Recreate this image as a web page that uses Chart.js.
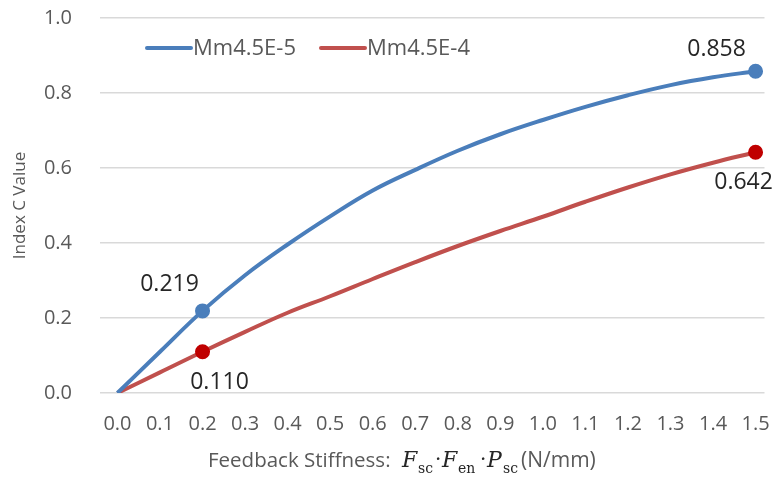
<!DOCTYPE html>
<html>
<head>
<meta charset="utf-8">
<script src="https://cdn.jsdelivr.net/npm/chart.js@4.4.1/dist/chart.umd.min.js"></script>
<style>
  html, body { margin: 0; padding: 0; background: #fff; }
  #wrap { width: 774px; height: 480px; }
</style>
</head>
<body>
<div id="wrap"><canvas id="stiffnessChart" width="774" height="480"></canvas></div>
<script>
// feedback stiffness (N/mm) on the x axis
const stiffness = [0.0, 0.1, 0.2, 0.3, 0.4, 0.5, 0.6, 0.7, 0.8, 0.9, 1.0, 1.1, 1.2, 1.3, 1.4, 1.5];
// index C for each mass ratio
const indexCMm45E5 = [0, 0.110, 0.219, 0.314, 0.396, 0.471, 0.540, 0.595, 0.646, 0.690, 0.728, 0.763, 0.794, 0.821, 0.842, 0.858];
const indexCMm45E4 = [0, 0.055, 0.110, 0.163, 0.214, 0.258, 0.304, 0.349, 0.392, 0.432, 0.470, 0.510, 0.548, 0.583, 0.614, 0.642];
const seriesNames = ['Mm4.5E-5', 'Mm4.5E-4'];
const yTickValues = [0.0, 0.2, 0.4, 0.6, 0.8, 1.0];
// points that get a marker and a value label
const markedIdx = [2, 15];

const BLUE = '#4a7ebb';
const RED = '#c0504d';
const RED_DOT = '#c00000';
const GREY = '#595959';
const SANS = '"Open Sans", "Liberation Sans", sans-serif';
const SERIF = '"DejaVu Serif", "Liberation Serif", serif';

// label offsets from the point, per dataset / marked index
const labelOffsets = [
  { 2: [-33, -26], 15: [-39, -22] },
  { 2: [17, 31], 15: [-12, 30] }
];

function pts(values) {
  return stiffness.map((x, i) => ({ x: x, y: values[i] }));
}
function radii(r) {
  return stiffness.map((_, i) => markedIdx.includes(i) ? r : 0);
}

// legend drawn inside the plot area, top left
const insideLegend = {
  id: 'insideLegend',
  afterDraw(chart) {
    const { ctx, chartArea } = chart;
    const y = chartArea.top + 30;
    const starts = [chartArea.left + 47, chartArea.left + 221];
    ctx.save();
    ctx.font = '22px ' + SANS;
    ctx.textBaseline = 'middle';
    chart.data.datasets.forEach((ds, i) => {
      const x0 = starts[i];
      ctx.strokeStyle = ds.borderColor;
      ctx.lineWidth = 4;
      ctx.lineCap = 'round';
      ctx.beginPath();
      ctx.moveTo(x0, y);
      ctx.lineTo(x0 + 44, y);
      ctx.stroke();
      ctx.fillStyle = GREY;
      ctx.fillText(ds.label, x0 + 46, y + 1);
    });
    ctx.restore();
  }
};

// value labels next to the marked points
const valueLabels = {
  id: 'valueLabels',
  afterDatasetsDraw(chart) {
    const { ctx } = chart;
    ctx.save();
    ctx.font = '23px ' + SANS;
    ctx.fillStyle = '#262626';
    ctx.textAlign = 'center';
    ctx.textBaseline = 'middle';
    chart.data.datasets.forEach((ds, d) => {
      const meta = chart.getDatasetMeta(d);
      markedIdx.forEach(i => {
        const p = meta.data[i];
        const off = labelOffsets[d][i];
        ctx.fillText(ds.data[i].y.toFixed(3), p.x + off[0], p.y + off[1]);
      });
    });
    ctx.restore();
  }
};

// x axis title with the stiffness product written out
const xTitle = {
  id: 'xTitle',
  afterDraw(chart) {
    const { ctx } = chart;
    const base = 467;
    const ink = '#262626';
    const big = 'italic 22px ' + SERIF;
    const sub = '14px ' + SERIF;
    const parts = [
      { t: 'F', f: big, c: ink, x: 402, dy: 0 },
      { t: 'sc', f: sub, c: ink, x: 418, dy: 6 },
      { t: '·', f: '20px ' + SERIF, c: ink, x: 435, dy: -1 },
      { t: 'F', f: big, c: ink, x: 442, dy: 0 },
      { t: 'en', f: sub, c: ink, x: 458, dy: 6 },
      { t: '·', f: '20px ' + SERIF, c: ink, x: 480, dy: -1 },
      { t: 'P', f: big, c: ink, x: 487, dy: 0 },
      { t: 'sc', f: sub, c: ink, x: 503, dy: 6 },
      { t: '(N/mm)', f: '21px ' + SANS, c: GREY, x: 521, dy: 0 }
    ];
    ctx.save();
    ctx.textBaseline = 'alphabetic';
    ctx.font = '20.5px ' + SANS;
    ctx.fillStyle = GREY;
    ctx.fillText('Feedback Stiffness:', 208, base);
    parts.forEach(p => {
      ctx.font = p.f;
      ctx.fillStyle = p.c;
      ctx.fillText(p.t, p.x, base + p.dy);
    });
    ctx.restore();
  }
};

new Chart(document.getElementById('stiffnessChart'), {
  type: 'line',
  data: {
    datasets: [
      {
        label: seriesNames[0],
        data: pts(indexCMm45E5),
        borderColor: BLUE,
        backgroundColor: BLUE,
        pointBackgroundColor: BLUE,
        pointBorderColor: BLUE,
        pointRadius: radii(5.5),
        borderWidth: 4,
        tension: 0.4,
        fill: false
      },
      {
        label: seriesNames[1],
        data: pts(indexCMm45E4),
        borderColor: RED,
        backgroundColor: RED,
        pointBackgroundColor: RED_DOT,
        pointBorderColor: RED_DOT,
        pointRadius: radii(5.5),
        borderWidth: 4,
        tension: 0.4,
        fill: false
      }
    ]
  },
  options: {
    responsive: false,
    animation: false,
    devicePixelRatio: 1,
    layout: { padding: { top: 18, right: 2, left: 0, bottom: 0 } },
    plugins: {
      legend: { display: false },
      tooltip: { enabled: false }
    },
    scales: {
      x: {
        type: 'linear',
        min: -0.041,
        max: 1.521,
        afterBuildTicks: axis => { axis.ticks = stiffness.map(v => ({ value: v })); },
        afterFit: axis => {
          axis.height = 87;
          axis.paddingLeft = 0;
          axis.paddingRight = 0;
        },
        grid: { display: false },
        border: { display: false },
        ticks: {
          autoSkip: false,
          maxRotation: 0,
          padding: 11,
          color: GREY,
          font: { family: SANS, size: 20 },
          callback: v => Number(v).toFixed(1)
        }
      },
      y: {
        min: 0,
        max: 1,
        afterBuildTicks: axis => { axis.ticks = yTickValues.map(v => ({ value: v })); },
        afterFit: axis => {
          axis.width = 100;
          axis.paddingTop = 0;
          axis.paddingBottom = 0;
        },
        grid: { color: '#d9d9d9', lineWidth: 1.5, drawTicks: false },
        border: { display: false },
        title: {
          display: true,
          text: 'Index C Value',
          color: GREY,
          font: { family: SANS, size: 17 },
          padding: { top: 10, bottom: 0 }
        },
        ticks: {
          padding: 28,
          color: GREY,
          font: { family: SANS, size: 20 },
          callback: v => Number(v).toFixed(1)
        }
      }
    }
  },
  plugins: [insideLegend, valueLabels, xTitle]
});
</script>
</body>
</html>
